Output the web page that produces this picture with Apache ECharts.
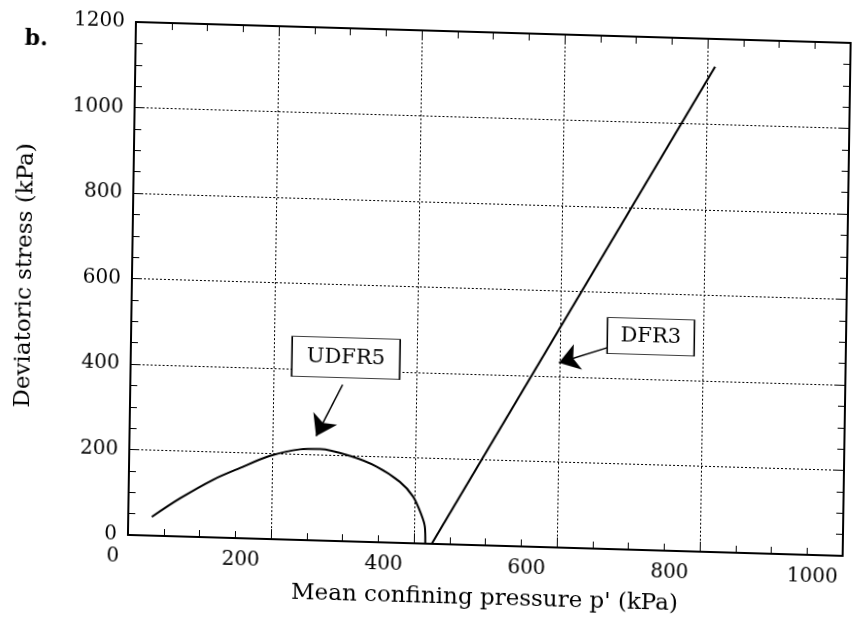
<!DOCTYPE html>
<html>
<head>
<meta charset="utf-8">
<script src="https://cdn.jsdelivr.net/npm/echarts@6/dist/echarts.min.js"></script>
<style>
  html, body { margin: 0; padding: 0; background: #fff; overflow: hidden; }
  /* the scanned figure is slightly skewed, so the chart box is too */
  #main {
    width: 858px; height: 626px;
    transform-origin: 128px 535px;
    transform: matrix(1, 0.0293, -0.0156, 1, 0, 0);
  }
</style>
</head>
<body>
<div id="main"></div>
<script>
// UDFR5 (undrained) stress path
const udfr5P = [33, 72, 118, 155, 196, 239, 267, 309, 346, 379, 398, 410, 415, 416]
const udfr5Q = [44, 89, 135, 164, 194, 212, 214, 200, 177, 143, 109, 67, 40, 0]
// DFR3 (drained) stress path
const dfr3P = [425, 811]
const dfr3Q = [0, 1135]
// annotation positions (data units)
const udfr5Box = [301, 429]
const udfr5Arrow = [[297, 366], [261, 244]]
const dfr3Box = [727, 499]
const dfr3Arrow = [[667, 471], [599, 432]]

const serif = 'DejaVu Serif'
const black = '#000'

const chart = echarts.init(document.getElementById('main'))

const axisCommon = {
  type: 'value',
  axisLine: { show: true, onZero: false, lineStyle: { color: black, width: 2 } },
  axisTick: { show: true, inside: true, length: 10, lineStyle: { color: black, width: 1 } },
  minorTick: { show: true, splitNumber: 4, length: 7, lineStyle: { color: black, width: 1 } }
}

const gridLine = { show: true, lineStyle: { color: black, width: 1, type: [2, 2] } }

const zip = (a, b) => a.map((v, i) => [v, b[i]])

const boxLabel = (text, coord, size) => ({
  coord: coord,
  symbol: 'rect',
  symbolSize: size,
  itemStyle: { color: '#fff', borderColor: black, borderWidth: 1 },
  label: {
    show: true, position: 'inside', formatter: text,
    color: black, fontFamily: serif, fontSize: 21
  }
})

const arrow = (pts) => ({
  silent: true,
  symbol: ['none', 'arrow'],
  symbolSize: 20,
  label: { show: false },
  lineStyle: { color: black, width: 1.5, type: 'solid' },
  data: [[{ coord: pts[0] }, { coord: pts[1] }]]
})

const option = {
  backgroundColor: '#fff',
  animation: false,
  title: {
    text: 'b.', left: 12, top: 26,
    textStyle: { fontFamily: serif, fontSize: 22, fontWeight: 'bold', color: black }
  },
  grid: { left: 128, top: 22, right: 15, bottom: 91 },
  xAxis: [
    Object.assign({}, axisCommon, {
      position: 'bottom', min: 0, max: 1000, interval: 200,
      splitLine: gridLine,
      name: "Mean confining pressure p' (kPa)",
      nameLocation: 'middle', nameGap: 42,
      nameTextStyle: { fontFamily: serif, fontSize: 23, color: black },
      axisLabel: {
        margin: 12, color: black, fontFamily: serif, fontSize: 20,
        formatter: v => v === 0 ? '{a|0}' : '{b|' + v + '}',
        rich: {
          a: { fontFamily: serif, fontSize: 20, color: black, padding: [0, 30, 0, 0] },
          b: { fontFamily: serif, fontSize: 20, color: black, padding: [0, 60, 0, 0] }
        }
      }
    }),
    Object.assign({}, axisCommon, {
      position: 'top', min: 0, max: 1000, interval: 200,
      splitLine: { show: false }, axisLabel: { show: false }
    })
  ],
  yAxis: [
    Object.assign({}, axisCommon, {
      position: 'left', min: 0, max: 1200, interval: 200,
      splitLine: gridLine,
      name: 'Deviatoric stress (kPa)',
      nameLocation: 'middle', nameGap: 95,
      nameTextStyle: { fontFamily: serif, fontSize: 23, color: black },
      axisLabel: {
        margin: 11, color: black, fontFamily: serif, fontSize: 20,
        formatter: v => String(v)
      }
    }),
    Object.assign({}, axisCommon, {
      position: 'right', min: 0, max: 1200, interval: 200,
      splitLine: { show: false }, axisLabel: { show: false }
    })
  ],
  series: [
    {
      name: 'UDFR5',
      type: 'line',
      data: zip(udfr5P, udfr5Q),
      smooth: 0.3,
      showSymbol: false,
      lineStyle: { color: black, width: 2 },
      markPoint: { silent: true, data: [boxLabel('UDFR5', udfr5Box, [108, 40])] },
      markLine: arrow(udfr5Arrow)
    },
    {
      name: 'DFR3',
      type: 'line',
      data: zip(dfr3P, dfr3Q),
      showSymbol: false,
      lineStyle: { color: black, width: 2 },
      markPoint: { silent: true, data: [boxLabel('DFR3', dfr3Box, [87, 36])] },
      markLine: arrow(dfr3Arrow)
    }
  ]
}

chart.setOption(option)
</script>
</body>
</html>
